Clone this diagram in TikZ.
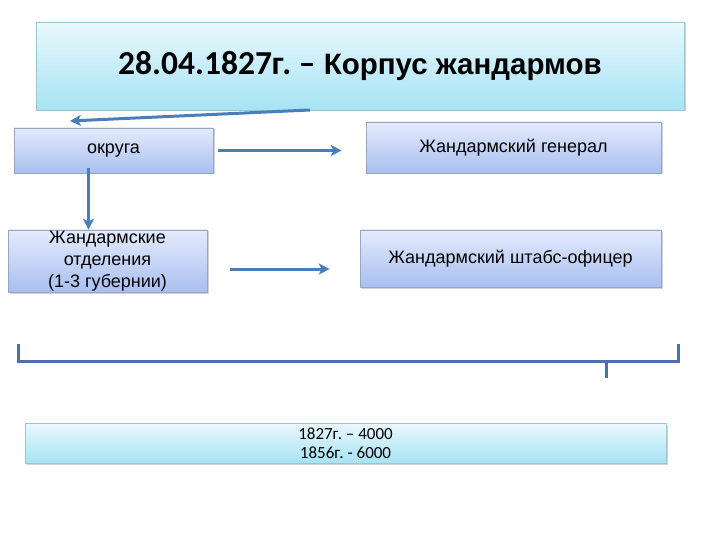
\documentclass[tikz,border=0pt]{standalone}
\usepackage{fontspec}
\setmainfont{Liberation Sans}
\newfontfamily\calib{Carlito}
\usetikzlibrary{arrows.meta,shadows}
\definecolor{arrowblue}{HTML}{4A7EBB}
\definecolor{bracketblue}{HTML}{4F6FA8}
\definecolor{cyantop}{HTML}{EAF8FD}
\definecolor{cyanbot}{HTML}{A6E3F4}
\definecolor{bluetop}{HTML}{E4EBFC}
\definecolor{bluebot}{HTML}{A9BFF0}
\tikzset{
  cyanbox/.style={draw=cyanbot!70!gray, line width=0.6pt, top color=cyantop, bottom color=cyanbot,
    drop shadow={shadow xshift=1.5pt, shadow yshift=-1.5pt, opacity=0.35}},
  bluebox/.style={draw=bluebot!60!gray, line width=0.6pt, top color=bluetop, bottom color=bluebot,
    drop shadow={shadow xshift=1.5pt, shadow yshift=-1.5pt, opacity=0.35},
    align=center, font=\fontsize{18}{22}\selectfont},
  conn/.style={draw=arrowblue, line width=3pt, -{Stealth[length=11pt,width=11pt,inset=3pt]}},
  bracket/.style={draw=bracketblue, line width=3pt}
}
\frenchspacing
\begin{document}
\begin{tikzpicture}[x=1pt,y=-1pt]
\useasboundingbox (0,0) rectangle (720,540);
% title
\node[cyanbox, minimum width=648pt, minimum height=88pt, font=\bfseries\fontsize{29.5}{33}\selectfont] (title) at (360,66) {{\calib\fontsize{33.5}{33}\selectfont 28.04.1827г. –} Корпус жандармов};
\node[bluebox, minimum width=199pt, minimum height=45pt] (okr) at (113.5,150.5) {округа};
\node[bluebox, minimum width=295pt, minimum height=51pt] (gen) at (513.5,147.5) {Жандармский генерал};
\node[bluebox, minimum width=199pt, minimum height=62pt, inner sep=0pt] (otd) at (107.5,261) {Жандармские\\отделения\\(1-3 губернии)};
\node[bluebox, minimum width=301pt, minimum height=57pt] (shtab) at (510.5,258.5) {Жандармский штабс-офицер};
\node[cyanbox, minimum width=641pt, minimum height=40pt, align=center, font=\calib\fontsize{17}{19}\selectfont] (num) at (345.5,443) {1827г. – 4000\\1856г. - 6000};
% arrows
\coordinate (t1) at (310,110);
\coordinate (t2) at (70,121);
\draw[conn] (t1) -- (t2);
\draw[conn] ([xshift=5pt]okr.east) -- ([xshift=-24pt]gen.west |- okr.east);
\draw[conn] ([xshift=-25pt,yshift=5pt]okr.south) -- ([xshift=-19pt]otd.north);
\draw[conn] ([xshift=23pt,yshift=-8pt]otd.east) -- ([xshift=-30pt,yshift=-8pt]otd.east -| shtab.west);
% bracket
\coordinate (b1) at (18,344);
\coordinate (b2) at (18,361);
\coordinate (b3) at (678,361);
\coordinate (b4) at (678,344);
\coordinate (b5) at (606,361);
\coordinate (b6) at (606,378);
\draw[bracket] (b1) -- (b2) -- (b3) -- (b4);
\draw[bracket] (b5) -- (b6);
\end{tikzpicture}
\end{document}
